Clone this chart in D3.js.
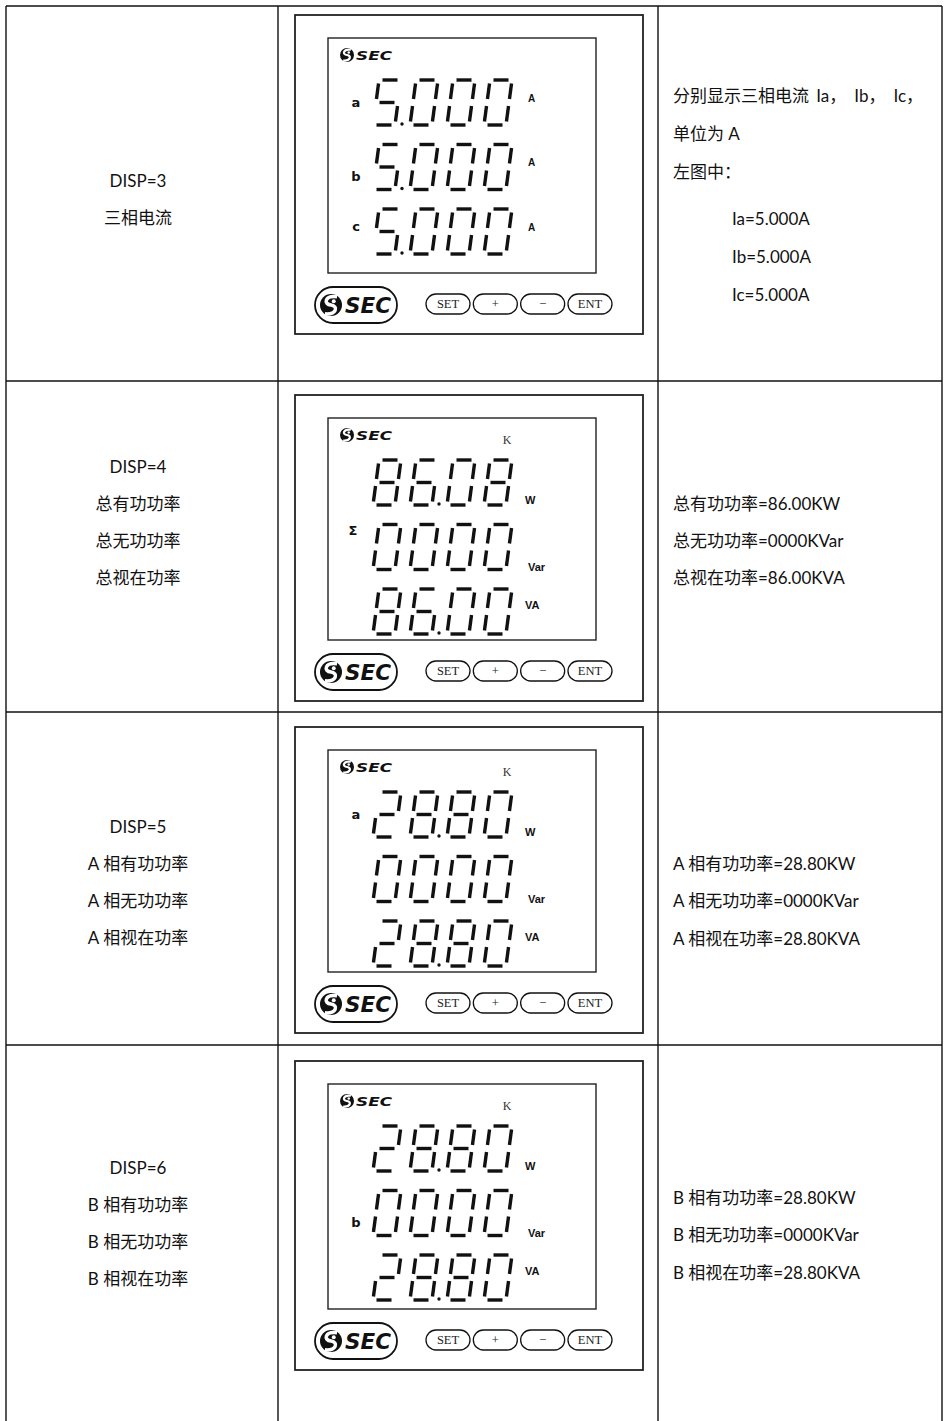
<!DOCTYPE html>
<html><head><meta charset="utf-8">
<script src="https://cdn.jsdelivr.net/npm/d3@7"></script>
<style>body{margin:0;background:#fff}svg{display:block}</style>
</head><body><svg id="c" width="944" height="1421"></svg>
<script>
// ---------- data ----------
const dispCodes = ["DISP=3", "DISP=4", "DISP=5", "DISP=6"];
const leftNames = [
  ["三相电流"],
  ["总有功功率", "总无功功率", "总视在功率"],
  ["A 相有功功率", "A 相无功功率", "A 相视在功率"],
  ["B 相有功功率", "B 相无功功率", "B 相视在功率"]
];
const rightNotes = [
  ["分别显示三相电流| Ia，|Ib，|Ic，", "单位为 A", "左图中：", "Ia=5.000A", "Ib=5.000A", "Ic=5.000A"],
  ["总有功功率=86.00KW", "总无功功率=0000KVar", "总视在功率=86.00KVA"],
  ["A 相有功功率=28.80KW", "A 相无功功率=0000KVar", "A 相视在功率=28.80KVA"],
  ["B 相有功功率=28.80KW", "B 相无功功率=0000KVar", "B 相视在功率=28.80KVA"]
];
const readings = [
  ["5.000", "5.000", "5.000"],
  ["86.08", "0000", "86.00"],
  ["28.80", "0000", "28.80"],
  ["28.80", "0000", "28.80"]
];
const units = [["A", "A", "A"], ["W", "Var", "VA"], ["W", "Var", "VA"], ["W", "Var", "VA"]];
const phaseMarks = [["a", "b", "c"], ["", "Σ", ""], ["a", "", ""], ["", "b", ""]];
const multiplier = ["", "K", "K", "K"];
const keys = ["SET", "+", "−", "ENT"];
const brand = "SEC";

// ---------- layout ----------
const W = 944, H = 1421;
const rowTop = [6, 381, 712, 1045];
const colX = [6, 278, 658, 942];
const meterTop = [15, 395, 727, 1061];
const lcdH = [235, 222, 222, 225];
const leftFirstY = [180, 466, 826, 1167];
const rightY = [[95, 133, 171, 218, 256, 294], [503, 540, 577], [863, 900, 938], [1197, 1234, 1272]];
const partDx = [0, 3, 8, 8];
const SEG = {"0":"abcdef","1":"bc","2":"abged","3":"abgcd","4":"fgbc","5":"afgcd","6":"afgedc","7":"abc","8":"abcdefg","9":"abcdfg"};
const unitDy = {A: 18, W: 40, Var: 42, VA: 16};
const unitX = {A: 528, W: 525, Var: 528, VA: 525};
const labelDy = {a: 22, b: 32, c: 17, "Σ": 6};

const svg = d3.select("#c");
svg.append("rect").attr("width", W).attr("height", H).attr("fill", "#fff");

const cn = "'Lato','Noto Sans CJK SC',sans-serif";

// table grid
const g = svg.append("g").attr("stroke", "#111").attr("stroke-width", 1.4);
colX.forEach(x => g.append("line").attr("x1", x).attr("x2", x).attr("y1", rowTop[0]).attr("y2", H));
rowTop.forEach(y => g.append("line").attr("x1", colX[0]).attr("x2", colX[3]).attr("y1", y).attr("y2", y));

// left column text
const leftX = 138;
dispCodes.forEach((code, i) => {
  const lines = [code].concat(leftNames[i]);
  const yS = d3.scaleLinear().domain([0, 1]).range([leftFirstY[i], leftFirstY[i] + 37]);
  lines.forEach((t, j) => {
    svg.append("text").attr("x", leftX).attr("y", yS(j)).attr("text-anchor", "middle")
      .attr("dominant-baseline", "central").attr("font-family", cn).attr("font-size", 17)
      .attr("fill", "#111").text(t);
  });
});

// right column text
rightNotes.forEach((lines, i) => {
  lines.forEach((t, j) => {
    const indent = (i === 0 && j >= 3) ? 732 : 673;
    const tx = svg.append("text").attr("x", indent).attr("y", rightY[i][j])
      .attr("dominant-baseline", "central").attr("font-family", cn).attr("font-size", 17)
      .attr("fill", "#111");
    t.split("|").forEach((p, k) => tx.append("tspan").attr("dx", partDx[k] || 0).text(p));
  });
});

// logo glyph
function logoIcon(sel, cx, cy, r) {
  const gg = sel.append("g");
  gg.append("circle").attr("cx", cx).attr("cy", cy).attr("r", r).attr("fill", "#111");
  gg.append("path")
    .attr("d", `M${cx + r*0.55},${cy - r*0.75} C${cx - r*0.6},${cy - r*0.9} ${cx - r*0.7},${cy - r*0.05} ${cx},${cy}
      C${cx + r*0.7},${cy + r*0.1} ${cx + r*0.5},${cy + r*0.9} ${cx - r*0.55},${cy + r*0.8}`)
    .attr("fill", "none").attr("stroke", "#fff").attr("stroke-width", r * 0.32);
  gg.append("circle").attr("cx", cx + r*0.25).attr("cy", cy - r*0.35).attr("r", r*0.18).attr("fill", "#fff");
}

// seven segment digit
const DW = 22, DH = 45, SK = 6, GAP = 3.5;
function segPts(s) {
  const h2 = DH / 2;
  switch (s) {
    case "a": return [[GAP, 0], [DW - GAP, 0]];
    case "b": return [[DW, GAP], [DW, h2 - GAP]];
    case "c": return [[DW, h2 + GAP], [DW, DH - GAP]];
    case "d": return [[GAP, DH], [DW - GAP, DH]];
    case "e": return [[0, h2 + GAP], [0, DH - GAP]];
    case "f": return [[0, GAP], [0, h2 - GAP]];
    case "g": return [[GAP, h2], [DW - GAP, h2]];
  }
}

const lineGen = d3.line();

readings.forEach((rows, i) => {
  const top = meterTop[i];
  const lcdTop = top + 23;
  const lcdBot = lcdTop + lcdH[i];
  const m = svg.append("g");
  // outer frame
  m.append("rect").attr("x", 295).attr("y", top).attr("width", 348).attr("height", lcdBot + 61 - top)
    .attr("fill", "none").attr("stroke", "#222").attr("stroke-width", 1.8);
  // LCD window
  m.append("rect").attr("x", 328).attr("y", lcdTop).attr("width", 268).attr("height", lcdH[i])
    .attr("fill", "none").attr("stroke", "#222").attr("stroke-width", 1.4);
  // small logo
  logoIcon(m, 347, lcdTop + 17, 7);
  m.append("text").attr("x", 356).attr("y", lcdTop + 22).attr("font-family", "'DejaVu Sans',sans-serif")
    .attr("font-weight", "bold").attr("font-style", "italic").attr("font-size", 13)
    .attr("textLength", 36).attr("lengthAdjust", "spacingAndGlyphs").attr("fill", "#111").text(brand);
  if (multiplier[i]) {
    m.append("text").attr("x", 507).attr("y", lcdTop + 22).attr("text-anchor", "middle")
      .attr("dominant-baseline", "central").attr("font-family", "'Liberation Serif',serif")
      .attr("font-size", 12).attr("fill", "#333").text(multiplier[i]);
  }
  const yRow = d3.scaleLinear().domain([0, 2]).range([lcdTop + 42, lcdTop + 171]);
  const xDig = d3.scaleLinear().domain([0, 3]).range([373, 373 + 3 * 37]);
  rows.forEach((val, r) => {
    const y0 = yRow(r);
    const chars = val.split("");
    let di = 0;
    chars.forEach(ch => {
      if (ch === ".") {
        const x0 = xDig(di - 1);
        m.append("circle").attr("cx", x0 + DW + 7).attr("cy", y0 + DH - 1).attr("r", 1.7).attr("fill", "#111");
        return;
      }
      const x0 = xDig(di);
      SEG[ch].split("").forEach(s => {
        const pts = segPts(s).map(([u, v]) => [x0 + u + SK * (DH - v) / DH, y0 + v]);
        m.append("path").attr("d", lineGen(pts)).attr("stroke", "#111").attr("stroke-width", 3.4)
          .attr("stroke-linecap", "butt").attr("fill", "none");
      });
      di++;
    });
    const u = units[i][r];
    m.append("text").attr("x", unitX[u]).attr("y", y0 + unitDy[u]).attr("dominant-baseline", "central")
      .attr("font-family", "'Liberation Sans Narrow','Liberation Sans',sans-serif").attr("font-weight", "bold")
      .attr("font-size", u === "A" ? 10 : 11).attr("fill", "#111").text(u);
    const lab = phaseMarks[i][r];
    if (lab) {
      m.append("text").attr("x", lab === "Σ" ? 353 : 356).attr("y", y0 + labelDy[lab]).attr("text-anchor", "middle")
        .attr("dominant-baseline", "central").attr("font-family", "'DejaVu Sans',sans-serif")
        .attr("font-weight", "bold").attr("font-size", 13).attr("fill", "#111").text(lab);
    }
  });
  // big logo in oval
  m.append("rect").attr("x", 315).attr("y", lcdBot + 14).attr("width", 82).attr("height", 36).attr("rx", 18)
    .attr("fill", "none").attr("stroke", "#111").attr("stroke-width", 1.8);
  logoIcon(m, 331, lcdBot + 32, 11);
  m.append("text").attr("x", 345).attr("y", lcdBot + 40).attr("font-family", "'DejaVu Sans',sans-serif")
    .attr("font-weight", "bold").attr("font-style", "italic").attr("font-size", 21)
    .attr("textLength", 46).attr("lengthAdjust", "spacingAndGlyphs").attr("fill", "#111").text(brand);
  // keys
  const xb = d3.scaleBand().domain(keys).range([426, 612]).paddingInner(0.07);
  keys.forEach(k => {
    m.append("rect").attr("x", xb(k)).attr("y", lcdBot + 21).attr("width", xb.bandwidth()).attr("height", 20)
      .attr("rx", 10).attr("fill", "none").attr("stroke", "#111").attr("stroke-width", 1.3);
    m.append("text").attr("x", xb(k) + xb.bandwidth() / 2).attr("y", lcdBot + 31).attr("text-anchor", "middle")
      .attr("dominant-baseline", "central").attr("font-family", "'Liberation Serif',serif")
      .attr("font-size", 12.5).attr("fill", "#222").text(k);
  });
});
</script>
</body></html>
